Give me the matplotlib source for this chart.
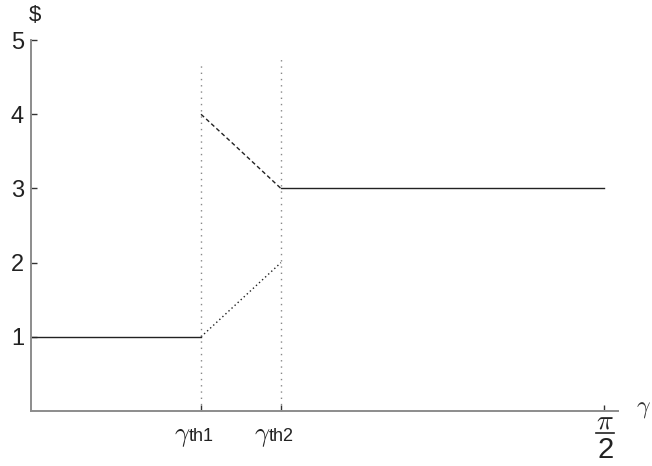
import matplotlib; matplotlib.use("Agg")
import matplotlib.pyplot as plt
import numpy as np

plt.rcParams["font.family"] = ["Liberation Sans", "DejaVu Sans"]
plt.rcParams["mathtext.fontset"] = "cm"

# threshold angles and end point
G1, G2, GEND = 0.466, 0.685, np.pi / 2
# piecewise segments (x, y)
low_x, low_y = [0, G1], [1, 1]
dash_x, dash_y = [G1, 0.55, G2], [4, 3.62, 3]
dot_x, dot_y = [G1, G2], [1, 2]
high_x, high_y = [G2, GEND], [3, 3]
YTICKS = [1, 2, 3, 4, 5]
XSUBS = ["th1", "th2"]

fig = plt.figure(figsize=(6.52, 4.66), dpi=100)
ax = fig.add_axes([0.0475, 0.118, 0.9005, 0.796])
ax.set_xlim(0, 1.609); ax.set_ylim(0, 5)
for s in ["top", "right"]: ax.spines[s].set_visible(False)
for s in ["left", "bottom"]: ax.spines[s].set_color("#8c8c8c"); ax.spines[s].set_linewidth(1.4)

ax.plot(low_x, low_y, color="#222222", lw=1.0)
ax.plot(high_x, high_y, color="#222222", lw=1.0)
ax.plot(dash_x, dash_y, color="#222222", lw=1.0, ls=(0, (3, 2)))
ax.plot(dot_x, dot_y, color="#222222", lw=1.0, ls=(0, (1, 2)))
ax.plot([G1, G1], [0, 4.66], color="#888888", lw=1.0, ls=(0, (1, 3.5)))
ax.plot([G2, G2], [0, 4.77], color="#888888", lw=1.0, ls=(0, (1, 3.5)))

ax.set_yticks(YTICKS); ax.set_yticklabels([str(v) for v in YTICKS], fontsize=17, color="#222222")
ax.set_xticks([G1, G2, GEND]); ax.set_xticklabels(["", "", ""])
ax.tick_params(direction="in", length=4, color="#333333", width=1.0)
ax.tick_params(axis="y", pad=5)

for g, sub in zip([G1, G2], XSUBS):
    ax.annotate(r"$\gamma$", xy=(g, 0), xytext=(-19, -14), textcoords="offset pixels",
                ha="center", va="top", fontsize=19, color="#222222")
    ax.annotate(sub, xy=(g, 0), xytext=(-12, -17), textcoords="offset pixels",
                ha="left", va="top", fontsize=13, color="#222222")
# pi/2 label drawn as a stacked fraction
ax.annotate(r"$\pi$", xy=(GEND, 0), xytext=(1, -17), textcoords="offset pixels",
            ha="center", va="baseline", fontsize=20, color="#222222")
ax.annotate("2", xy=(GEND, 0), xytext=(1, -25), textcoords="offset pixels",
            ha="center", va="top", fontsize=21, color="#222222")
ax.plot([GEND - 0.021, GEND + 0.027], [-0.295, -0.295], color="#222222", lw=1.2, clip_on=False)
ax.annotate(r"$\gamma$", xy=(1.609, 0), xytext=(25, 2), textcoords="offset pixels",
            ha="center", va="center", fontsize=17, color="#333333")
ax.annotate(r"\$", xy=(0, 5), xytext=(4, 14), textcoords="offset pixels",
            ha="center", va="bottom", fontsize=16, color="#222222")

fig.savefig("out.png", dpi=100)
